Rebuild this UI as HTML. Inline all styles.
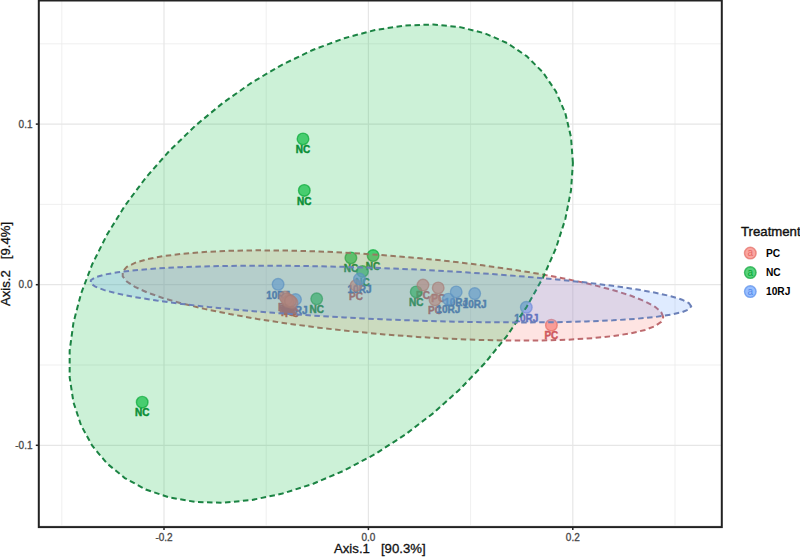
<!DOCTYPE html>
<html><head><meta charset="utf-8"><title>PCoA</title><style>
html,body{margin:0;padding:0;background:#fff;}
svg{display:block;}
.gm{stroke:#ebebeb;stroke-width:0.8;}
.gM{stroke:#e6e6e6;stroke-width:1.2;}
.tk{stroke:#222;stroke-width:1.5;}
text{font-family:"Liberation Sans",Arial,sans-serif;}
.tl{font-size:10px;fill:#484848;stroke:#484848;stroke-width:0.3px;}
.at{font-size:13.2px;fill:#111;stroke:#111;stroke-width:0.3px;}
.lt{font-size:13.2px;fill:#111;stroke:#111;stroke-width:0.4px;}
.ll{font-size:10.2px;font-weight:bold;fill:#000;}
.lb{font-size:10px;font-weight:bold;text-anchor:middle;stroke-width:0.45px;paint-order:stroke;}
.lk{font-size:10px;}
</style></head>
<body>
<svg width="800" height="557" viewBox="0 0 800 557">
<rect x="0" y="0" width="800" height="557" fill="#fff"/>
<line x1="61.8" y1="0.5" x2="61.8" y2="527.1" class="gm"/>
<line x1="266.2" y1="0.5" x2="266.2" y2="527.1" class="gm"/>
<line x1="470.6" y1="0.5" x2="470.6" y2="527.1" class="gm"/>
<line x1="675.0" y1="0.5" x2="675.0" y2="527.1" class="gm"/>
<line x1="38.8" y1="43.8" x2="721.8" y2="43.8" class="gm"/>
<line x1="38.8" y1="204.4" x2="721.8" y2="204.4" class="gm"/>
<line x1="38.8" y1="365.0" x2="721.8" y2="365.0" class="gm"/>
<line x1="38.8" y1="525.6" x2="721.8" y2="525.6" class="gm"/>
<line x1="164.0" y1="0.5" x2="164.0" y2="527.1" class="gM"/>
<line x1="368.4" y1="0.5" x2="368.4" y2="527.1" class="gM"/>
<line x1="572.8" y1="0.5" x2="572.8" y2="527.1" class="gM"/>
<line x1="38.8" y1="124.1" x2="721.8" y2="124.1" class="gM"/>
<line x1="38.8" y1="284.7" x2="721.8" y2="284.7" class="gM"/>
<line x1="38.8" y1="445.3" x2="721.8" y2="445.3" class="gM"/>
<text x="295.5" y="313.7" class="lb" fill="#3d66c0" stroke="#3d66c0">10RJ</text>
<text x="303" y="153.1" class="lb" fill="#0b8436" stroke="#0b8436">NC</text>
<text x="304.3" y="204.6" class="lb" fill="#0b8436" stroke="#0b8436">NC</text>
<text x="350.9" y="272.09999999999997" class="lb" fill="#0b8436" stroke="#0b8436">NC</text>
<text x="373.1" y="269.8" class="lb" fill="#0b8436" stroke="#0b8436">NC</text>
<text x="316.7" y="313.0" class="lb" fill="#0b8436" stroke="#0b8436">NC</text>
<text x="416.2" y="306.09999999999997" class="lb" fill="#0b8436" stroke="#0b8436">NC</text>
<text x="142.2" y="416.4" class="lb" fill="#0b8436" stroke="#0b8436">NC</text>
<text x="362.5" y="285.7" class="lb" fill="#0b8436" stroke="#0b8436">NC</text>
<text x="551.4" y="339.4" class="lb" fill="#c4505a" stroke="#c4505a">PC</text>
<text x="423" y="299.3" class="lb" fill="#c4505a" stroke="#c4505a">PC</text>
<text x="438.2" y="302.09999999999997" class="lb" fill="#c4505a" stroke="#c4505a">PC</text>
<text x="435" y="314.2" class="lb" fill="#c4505a" stroke="#c4505a">PC</text>
<text x="285" y="311.2" class="lb" fill="#c4505a" stroke="#c4505a">PC</text>
<text x="289" y="314.2" class="lb" fill="#c4505a" stroke="#c4505a">PC</text>
<text x="292" y="316.7" class="lb" fill="#c4505a" stroke="#c4505a">PC</text>
<text x="288" y="315.7" class="lb" fill="#c4505a" stroke="#c4505a">PC</text>
<text x="286.5" y="313.2" class="lb" fill="#c4505a" stroke="#c4505a">PC</text>
<text x="290.5" y="315.2" class="lb" fill="#c4505a" stroke="#c4505a">PC</text>
<text x="356" y="299.7" class="lb" fill="#c4505a" stroke="#c4505a">PC</text>
<text x="278.1" y="298.5" class="lb" fill="#3d66c0" stroke="#3d66c0">10RJ</text>
<text x="526.3" y="321.5" class="lb" fill="#3d66c0" stroke="#3d66c0">10RJ</text>
<text x="448.3" y="313.4" class="lb" fill="#3d66c0" stroke="#3d66c0">10RJ</text>
<text x="456.2" y="306.09999999999997" class="lb" fill="#3d66c0" stroke="#3d66c0">10RJ</text>
<text x="474.7" y="307.8" class="lb" fill="#3d66c0" stroke="#3d66c0">10RJ</text>
<text x="359.5" y="293.2" class="lb" fill="#3d66c0" stroke="#3d66c0">10RJ</text>
<circle cx="295.5" cy="299.5" r="5.8" fill="#619CFF" fill-opacity="0.65" stroke="#4f86e6" stroke-opacity="0.65" stroke-width="1.4"/>
<circle cx="303" cy="138.9" r="5.8" fill="#00BA38" fill-opacity="0.65" stroke="#00a030" stroke-opacity="0.65" stroke-width="1.4"/>
<circle cx="304.3" cy="190.4" r="5.8" fill="#00BA38" fill-opacity="0.65" stroke="#00a030" stroke-opacity="0.65" stroke-width="1.4"/>
<circle cx="350.9" cy="257.9" r="5.8" fill="#00BA38" fill-opacity="0.65" stroke="#00a030" stroke-opacity="0.65" stroke-width="1.4"/>
<circle cx="373.1" cy="255.6" r="5.8" fill="#00BA38" fill-opacity="0.65" stroke="#00a030" stroke-opacity="0.65" stroke-width="1.4"/>
<circle cx="316.7" cy="298.8" r="5.8" fill="#00BA38" fill-opacity="0.65" stroke="#00a030" stroke-opacity="0.65" stroke-width="1.4"/>
<circle cx="416.2" cy="291.9" r="5.8" fill="#00BA38" fill-opacity="0.65" stroke="#00a030" stroke-opacity="0.65" stroke-width="1.4"/>
<circle cx="142.2" cy="402.2" r="5.8" fill="#00BA38" fill-opacity="0.65" stroke="#00a030" stroke-opacity="0.65" stroke-width="1.4"/>
<circle cx="362.5" cy="271.5" r="5.8" fill="#00BA38" fill-opacity="0.65" stroke="#00a030" stroke-opacity="0.65" stroke-width="1.4"/>
<circle cx="551.4" cy="325.2" r="5.8" fill="#F8766D" fill-opacity="0.65" stroke="#e0625a" stroke-opacity="0.65" stroke-width="1.4"/>
<circle cx="423" cy="285.1" r="5.8" fill="#F8766D" fill-opacity="0.65" stroke="#e0625a" stroke-opacity="0.65" stroke-width="1.4"/>
<circle cx="438.2" cy="287.9" r="5.8" fill="#F8766D" fill-opacity="0.65" stroke="#e0625a" stroke-opacity="0.65" stroke-width="1.4"/>
<circle cx="435" cy="300" r="5.8" fill="#F8766D" fill-opacity="0.65" stroke="#e0625a" stroke-opacity="0.65" stroke-width="1.4"/>
<circle cx="285" cy="297" r="5.8" fill="#F8766D" fill-opacity="0.65" stroke="#e0625a" stroke-opacity="0.65" stroke-width="1.4"/>
<circle cx="289" cy="300" r="5.8" fill="#F8766D" fill-opacity="0.65" stroke="#e0625a" stroke-opacity="0.65" stroke-width="1.4"/>
<circle cx="292" cy="302.5" r="5.8" fill="#F8766D" fill-opacity="0.65" stroke="#e0625a" stroke-opacity="0.65" stroke-width="1.4"/>
<circle cx="288" cy="301.5" r="5.8" fill="#F8766D" fill-opacity="0.65" stroke="#e0625a" stroke-opacity="0.65" stroke-width="1.4"/>
<circle cx="286.5" cy="299" r="5.8" fill="#F8766D" fill-opacity="0.65" stroke="#e0625a" stroke-opacity="0.65" stroke-width="1.4"/>
<circle cx="290.5" cy="301" r="5.8" fill="#F8766D" fill-opacity="0.65" stroke="#e0625a" stroke-opacity="0.65" stroke-width="1.4"/>
<circle cx="356" cy="285.5" r="5.8" fill="#F8766D" fill-opacity="0.65" stroke="#e0625a" stroke-opacity="0.65" stroke-width="1.4"/>
<circle cx="278.1" cy="284.3" r="5.8" fill="#619CFF" fill-opacity="0.65" stroke="#4f86e6" stroke-opacity="0.65" stroke-width="1.4"/>
<circle cx="526.3" cy="307.3" r="5.8" fill="#619CFF" fill-opacity="0.65" stroke="#4f86e6" stroke-opacity="0.65" stroke-width="1.4"/>
<circle cx="448.3" cy="299.2" r="5.8" fill="#619CFF" fill-opacity="0.65" stroke="#4f86e6" stroke-opacity="0.65" stroke-width="1.4"/>
<circle cx="456.2" cy="291.9" r="5.8" fill="#619CFF" fill-opacity="0.65" stroke="#4f86e6" stroke-opacity="0.65" stroke-width="1.4"/>
<circle cx="474.7" cy="293.6" r="5.8" fill="#619CFF" fill-opacity="0.65" stroke="#4f86e6" stroke-opacity="0.65" stroke-width="1.4"/>
<circle cx="359.5" cy="279" r="5.8" fill="#619CFF" fill-opacity="0.65" stroke="#4f86e6" stroke-opacity="0.65" stroke-width="1.4"/>
<path d="M663.25,317.10 L661.20,312.06 L655.08,306.78 L644.98,301.32 L631.06,295.78 L613.53,290.23 L592.65,284.75 L568.73,279.45 L542.15,274.38 L513.31,269.64 L482.64,265.28 L450.60,261.39 L417.69,258.01 L384.40,255.19 L351.23,252.99 L318.70,251.44 L287.29,250.55 L257.47,250.34 L229.71,250.81 L204.41,251.96 L181.97,253.78 L162.73,256.22 L146.97,259.26 L134.94,262.85 L126.82,266.93 L122.72,271.44 L122.72,276.32 L126.82,281.49 L134.94,286.87 L146.97,292.39 L162.73,297.94 L181.97,303.47 L204.41,308.86 L229.71,314.06 L257.47,318.98 L287.29,323.53 L318.70,327.67 L351.23,331.31 L384.40,334.41 L417.69,336.93 L450.60,338.81 L482.64,340.03 L513.31,340.58 L542.15,340.45 L568.73,339.64 L592.65,338.15 L613.53,336.02 L631.06,333.27 L644.98,329.95 L655.08,326.11 L661.20,321.80 Z" fill="#F8766D" fill-opacity="0.2" stroke="#bd6a6e" stroke-width="2" stroke-dasharray="5.5 3.5"/>
<path d="M572.91,163.08 L571.00,137.16 L565.31,113.17 L555.91,91.45 L542.94,72.34 L526.62,56.14 L507.18,43.08 L484.92,33.36 L460.17,27.13 L433.31,24.49 L404.76,25.47 L374.93,30.07 L344.29,38.20 L313.29,49.75 L282.42,64.55 L252.12,82.36 L222.88,102.92 L195.12,125.91 L169.27,151.00 L145.72,177.79 L124.83,205.88 L106.91,234.85 L92.24,264.25 L81.04,293.64 L73.48,322.58 L69.66,350.63 L69.66,377.36 L73.48,402.36 L81.04,425.26 L92.24,445.71 L106.91,463.40 L124.83,478.06 L145.72,489.47 L169.27,497.46 L195.12,501.90 L222.88,502.73 L252.12,499.94 L282.42,493.56 L313.29,483.70 L344.29,470.50 L374.93,454.17 L404.76,434.95 L433.31,413.13 L460.17,389.04 L484.92,363.06 L507.18,335.56 L526.62,306.98 L542.94,277.74 L555.91,248.28 L565.31,219.06 L571.00,190.52 Z" fill="#00BA38" fill-opacity="0.2" stroke="#1b8343" stroke-width="2" stroke-dasharray="5.5 3.5"/>
<path d="M691.15,306.29 L688.87,303.05 L682.07,299.67 L670.86,296.21 L655.40,292.71 L635.93,289.24 L612.73,285.83 L586.18,282.56 L556.66,279.45 L524.62,276.57 L490.56,273.95 L454.98,271.64 L418.42,269.67 L381.45,268.06 L344.61,266.85 L308.48,266.06 L273.59,265.68 L240.48,265.74 L209.64,266.23 L181.55,267.14 L156.63,268.45 L135.25,270.16 L117.75,272.22 L104.39,274.62 L95.37,277.31 L90.82,280.26 L90.82,283.41 L95.37,286.73 L104.39,290.15 L117.75,293.64 L135.25,297.13 L156.63,300.58 L181.55,303.92 L209.64,307.12 L240.48,310.12 L273.59,312.87 L308.48,315.34 L344.61,317.49 L381.45,319.28 L418.42,320.69 L454.98,321.70 L490.56,322.28 L524.62,322.44 L556.66,322.17 L586.18,321.47 L612.73,320.36 L635.93,318.84 L655.40,316.96 L670.86,314.72 L682.07,312.17 L688.87,309.35 Z" fill="#619CFF" fill-opacity="0.2" stroke="#6b80b8" stroke-width="2" stroke-dasharray="5.5 3.5"/>
<rect x="38.8" y="0.5" width="683.0" height="526.6" fill="none" stroke="#222" stroke-width="2"/>
<line x1="164.0" y1="527.1" x2="164.0" y2="530.1" class="tk"/>
<text x="164.0" y="540.8" class="tl" text-anchor="middle">-0.2</text>
<line x1="368.4" y1="527.1" x2="368.4" y2="530.1" class="tk"/>
<text x="368.4" y="540.8" class="tl" text-anchor="middle">0.0</text>
<line x1="572.8" y1="527.1" x2="572.8" y2="530.1" class="tk"/>
<text x="572.8" y="540.8" class="tl" text-anchor="middle">0.2</text>
<line x1="38.8" y1="124.1" x2="35.8" y2="124.1" class="tk"/>
<text x="32.5" y="127.6" class="tl" text-anchor="end">0.1</text>
<line x1="38.8" y1="284.7" x2="35.8" y2="284.7" class="tk"/>
<text x="32.5" y="288.2" class="tl" text-anchor="end">0.0</text>
<line x1="38.8" y1="445.3" x2="35.8" y2="445.3" class="tk"/>
<text x="32.5" y="448.8" class="tl" text-anchor="end">-0.1</text>
<text x="379.8" y="553.1" class="at" text-anchor="middle" xml:space="preserve">Axis.1   [90.3%]</text>
<text transform="translate(9.8,263.9) rotate(-90)" class="at" text-anchor="middle" xml:space="preserve">Axis.2   [9.4%]</text>
<text x="741" y="235.6" class="lt">Treatment</text>
<text x="750.3" y="256.3" class="lk" fill="#c4505a" text-anchor="middle">a</text>
<circle cx="750.3" cy="253.1" r="5.8" fill="#F8766D" fill-opacity="0.65" stroke="#e0625a" stroke-opacity="0.65" stroke-width="1.4"/>
<text x="766" y="257.1" class="ll">PC</text>
<text x="750.3" y="275.8" class="lk" fill="#0b8436" text-anchor="middle">a</text>
<circle cx="750.3" cy="272.6" r="5.8" fill="#00BA38" fill-opacity="0.65" stroke="#00a030" stroke-opacity="0.65" stroke-width="1.4"/>
<text x="766" y="276.4" class="ll">NC</text>
<text x="750.3" y="294.8" class="lk" fill="#3d66c0" text-anchor="middle">a</text>
<circle cx="750.3" cy="291.6" r="5.8" fill="#619CFF" fill-opacity="0.65" stroke="#4f86e6" stroke-opacity="0.65" stroke-width="1.4"/>
<text x="766" y="295.2" class="ll">10RJ</text>
</svg>
</body></html>
